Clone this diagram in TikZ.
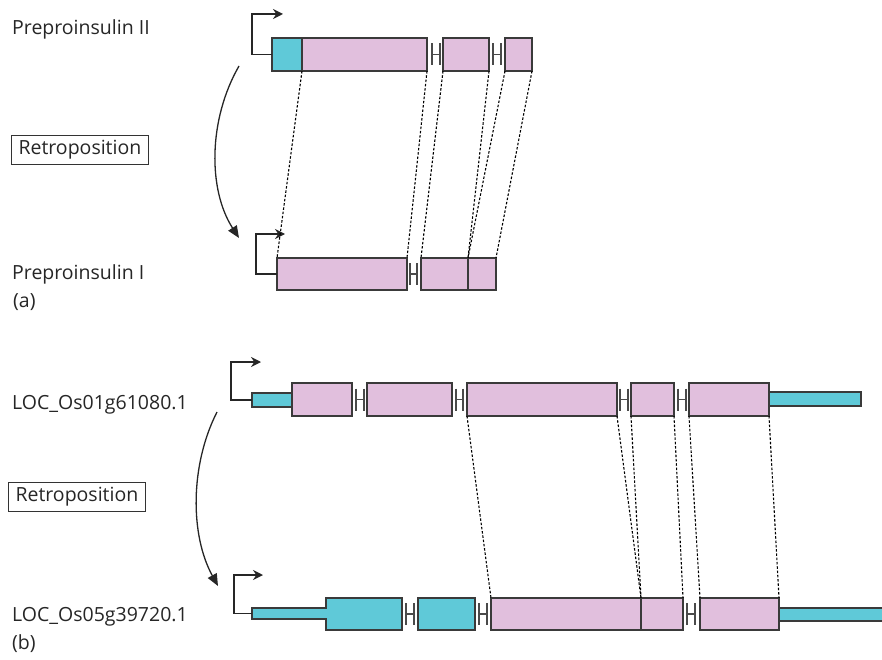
\documentclass[tikz,border=0pt]{standalone}
\usepackage{fontspec}
\setmainfont{Open Sans}
\usetikzlibrary{arrows.meta}
\definecolor{pinkc}{HTML}{E1BFDD}
\definecolor{bluec}{HTML}{5FC9D8}
\definecolor{edgec}{HTML}{3A3A3A}
\definecolor{hc}{HTML}{4A4A4A}
\tikzset{
  exon/.style={draw=edgec, fill=pinkc, line width=1.5pt, inner sep=0pt, outer sep=0pt, anchor=north west},
  utr/.style={draw=edgec, fill=bluec, line width=1.5pt, inner sep=0pt, outer sep=0pt, anchor=north west},
  hline/.style={draw=hc, line width=1.4pt},
  prom/.style={draw=black!85, line width=1.4pt, -{Stealth[length=10pt,width=10pt]}},
  homol/.style={draw=black, line width=1.1pt, dash pattern=on 2.5pt off 1.8pt},
  retro/.style={draw=black!85, line width=1.3pt, -{Triangle[length=12pt,width=10pt]}},
  lbl/.style={anchor=base west, inner sep=0pt, font=\fontsize{19.5pt}{23pt}\selectfont, text=black!85},
  rbox/.style={draw=black!80, line width=1.1pt, anchor=west, inner xsep=7pt, inner ysep=5pt, font=\fontsize{19.5pt}{23pt}\selectfont, text=black!85},
}
\newcommand\intronH[4]{%
  \draw[hline] (#1,{#3-#4}) -- (#1,{#3+#4}) (#1,#3) -- (#2,#3) (#2,{#3-#4}) -- (#2,{#3+#4});}
\begin{document}
\begin{tikzpicture}[x=1pt,y=-1pt]
\useasboundingbox (0,0) rectangle (882,660);
% ---------- panel (a) ----------
\node[lbl] (lab1) at (12,35) {Preproinsulin II};
\node[rbox] (r1) at (11,150) {Retroposition};
\node[lbl] (lab2) at (12,279) {Preproinsulin I};
\node[lbl] (pa) at (13,307) {(a)};
% top gene
\node[utr, minimum width=30pt, minimum height=33pt] (t0) at (272,38) {};
\node[exon, minimum width=125pt, minimum height=33pt] (t1) at (302,38) {};
\node[exon, minimum width=46pt, minimum height=33pt] (t2) at (443,38) {};
\node[exon, minimum width=27pt, minimum height=33pt] (t3) at (505,38) {};
\intronH{432}{440}{54.5}{11}
\intronH{493}{501}{54.5}{11}
\coordinate (pt1) at (252,14);
\draw[prom] (t0.west) -| (pt1) -- (283,14);
% bottom gene
\node[exon, minimum width=130pt, minimum height=32pt] (b1) at (277,258) {};
\node[exon, minimum width=47pt, minimum height=32pt] (b2) at (421,258) {};
\node[exon, minimum width=28pt, minimum height=32pt] (b3) at (468,258) {};
\intronH{410}{417}{274}{11}
\coordinate (pb1) at (256,234);
\draw[prom] (b1.west) -| (pb1) -- (285,234);
% homology lines
\draw[homol] (t1.south west) -- (b1.north west);
\draw[homol] (t1.south east) -- (b1.north east);
\draw[homol] (t2.south west) -- (b2.north west);
\draw[homol] (t2.south east) -- (b3.north west);
\draw[homol] (t3.south west) -- (b3.north west);
\draw[homol] (t3.south east) -- (b3.north east);
% retroposition arrow
\coordinate (ra1) at (239,66);
\coordinate (ra2) at (239,238);
\draw[retro] (ra1) .. controls (208,120) and (208,190) .. (ra2);
% ---------- panel (b) ----------
\node[lbl] (lab3) at (12,409) {LOC\_Os01g61080.1};
\node[rbox] (r2) at (8,497) {Retroposition};
\node[lbl] (lab4) at (12,621) {LOC\_Os05g39720.1};
\node[lbl] (pb) at (12,649) {(b)};
% top gene
\node[utr, minimum width=40pt, minimum height=14pt] (u0) at (252,393) {};
\node[exon, minimum width=60pt, minimum height=33pt] (u1) at (292,383) {};
\node[exon, minimum width=85pt, minimum height=33pt] (u2) at (367,383) {};
\node[exon, minimum width=150pt, minimum height=33pt] (u3) at (467,383) {};
\node[exon, minimum width=43pt, minimum height=33pt] (u4) at (631,383) {};
\node[exon, minimum width=80pt, minimum height=33pt] (u5) at (689,383) {};
\node[utr, minimum width=92pt, minimum height=14pt] (u6) at (769,392) {};
\intronH{356}{364}{399.5}{11}
\intronH{456}{463}{399.5}{11}
\intronH{620}{628}{399.5}{11}
\intronH{678}{686}{399.5}{11}
\coordinate (pu) at (231,362);
\draw[prom] (u0.west) -| (pu) -- (261,362);
% bottom gene
\coordinate (w0) at (252,613.5);
\draw[draw=edgec, fill=bluec, line width=1.5pt] (252,608) -- (326,608) -- (326,598) -- (402,598) -- (402,630) -- (326,630) -- (326,619) -- (252,619) -- cycle;
\node[utr, minimum width=57pt, minimum height=32pt] (w2) at (418,598) {};
\node[exon, minimum width=150pt, minimum height=32pt] (w3) at (491,598) {};
\node[exon, minimum width=42pt, minimum height=32pt] (w4) at (641,598) {};
\node[exon, minimum width=79pt, minimum height=32pt] (w5) at (700,598) {};
\node[utr, minimum width=110pt, minimum height=13pt] (w6) at (779,608) {};
\intronH{406}{414}{614}{11}
\intronH{479}{487}{614}{11}
\intronH{687}{695}{614}{11}
\coordinate (pw) at (234,575);
\draw[prom] (w0) -| (pw) -- (263,575);
% homology lines
\draw[homol] (u3.south west) -- (w3.north west);
\draw[homol] (u3.south east) -- (w4.north west);
\draw[homol] (u4.south west) -- (w4.north west);
\draw[homol] (u4.south east) -- (w4.north east);
\draw[homol] (u5.south west) -- (w5.north west);
\draw[homol] (u5.south east) -- (w5.north east);
% retroposition arrow
\coordinate (rb1) at (217,412);
\coordinate (rb2) at (218,586);
\draw[retro] (rb1) .. controls (190,465) and (190,535) .. (rb2);
\end{tikzpicture}
\end{document}
